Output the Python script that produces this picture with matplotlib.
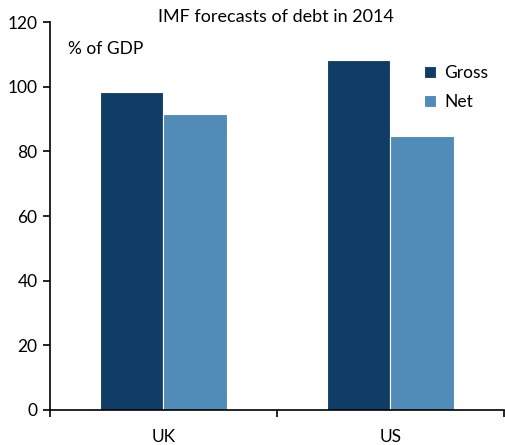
import matplotlib.pyplot as plt
import numpy as np

plt.rcParams['font.family'] = ['Lato', 'DejaVu Sans']

countries = ["UK", "US"]
gross = [98.3, 108.2]
net = [91.6, 84.7]
yticks = [0, 20, 40, 60, 80, 100, 120]

dark = '#0f3d66'
light = '#518cb9'

fig = plt.figure(figsize=(5.06, 4.45), dpi=100)
ax = fig.add_axes([50 / 506, 35 / 445, 454 / 506, 388 / 445])

x = np.arange(len(countries))
w = 0.28
ax.bar(x - w / 2, gross, w, color=dark, edgecolor='white', linewidth=0.8, label='Gross')
ax.bar(x + w / 2, net, w, color=light, edgecolor='white', linewidth=0.8, label='Net')

ax.set_xlim(-0.5, 1.5)
ax.set_ylim(0, 120)
ax.set_yticks(yticks)
ax.set_xticks(x)
ax.set_xticklabels(countries)
ax.set_xticks([-0.5, 0.5, 1.5], minor=True)
ax.tick_params(axis='x', which='major', length=0, pad=14, labelsize=12.5)
ax.tick_params(axis='x', which='minor', length=5, width=1.2, direction='out')
ax.tick_params(axis='y', length=5, width=1.2, labelsize=12.5, pad=4)

for s in ['top', 'right']:
    ax.spines[s].set_visible(False)
for s in ['left', 'bottom']:
    ax.spines[s].set_linewidth(1.2)

ax.text(0.04, 0.93, '% of GDP', transform=ax.transAxes, fontsize=12.5, va='center')
fig.text(276 / 506, 1 - 17 / 445, 'IMF forecasts of debt in 2014', ha='center', va='center', fontsize=13)

ax.legend(loc='upper right', bbox_to_anchor=(1.0, 0.93), frameon=False, fontsize=12.5,
          handlelength=0.7, handleheight=0.7, handletextpad=0.5, labelspacing=0.75)

fig.savefig('out.png', dpi=100)
